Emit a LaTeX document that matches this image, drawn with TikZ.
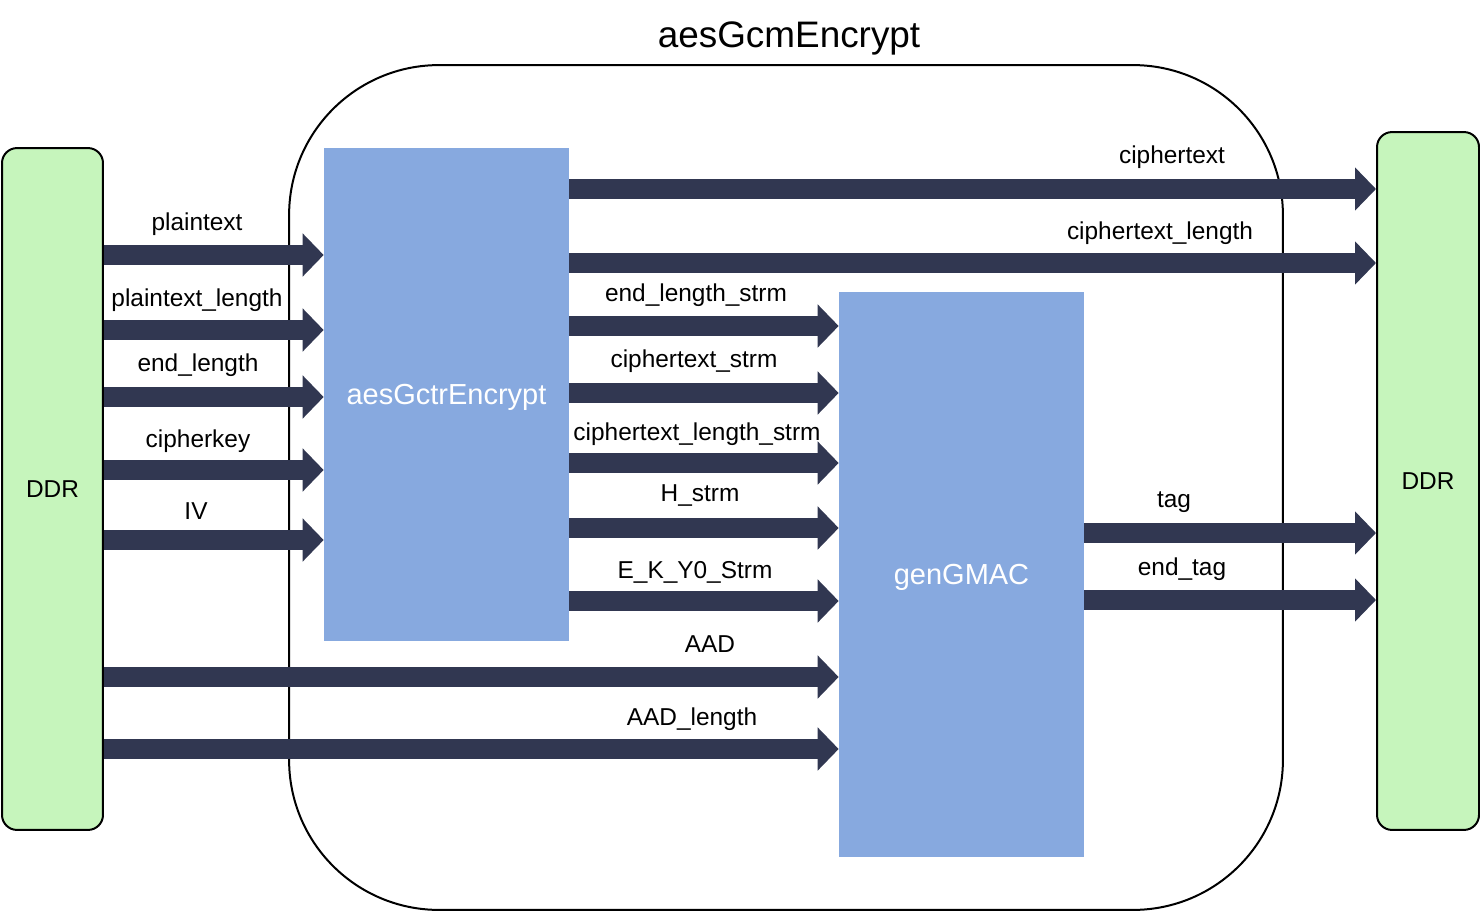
\documentclass[tikz,border=0pt]{standalone}
\usepackage{fontspec}
\setmainfont{Liberation Sans}
\usetikzlibrary{arrows.meta}

\definecolor{ddrgreen}{HTML}{C6F5BC}
\definecolor{blockblue}{HTML}{87A9DF}
\definecolor{busdark}{HTML}{313751}

\tikzset{
    ddr/.style={draw, line width=0.04cm, rounded corners=0.3cm, fill=ddrgreen, inner sep=0pt,
        font=\fontsize{13.9}{16}\selectfont},
    block/.style={fill=blockblue, text=white, inner sep=0pt, text depth=0pt,
        font=\fontsize{16.5}{20}\selectfont},
    bus/.style={busdark, line width=0.4cm, -{Triangle[width=0.84cm,length=0.42cm]}},
    lbl/.style={font=\fontsize{13.9}{16}\selectfont, inner sep=0pt},
}

\begin{document}
\begin{tikzpicture}[x=0.02cm, y=-0.02cm]
    \useasboundingbox (0,0) rectangle (1480,912);

    % Nodes
    \node (outer) at (786,487.5) [draw, line width=0.04cm, rounded corners=3cm,
        minimum width=19.88cm, minimum height=16.9cm] {};
    \node (title) at (789,38) [font=\fontsize{21}{25}\selectfont] {aesGcmEncrypt};

    \node (ddrL) at (52.5,489) [ddr, minimum width=2.02cm, minimum height=13.64cm] {DDR};
    \node (ddrR) at (1428,481) [ddr, minimum width=2.04cm, minimum height=13.96cm] {DDR};

    \node (gctr) at (446.5,394.5) [block, minimum width=4.9cm, minimum height=9.86cm] {aesGctrEncrypt};
    \node (gmac) at (961.5,574.5) [block, minimum width=4.9cm, minimum height=11.3cm] {genGMAC};

    % Labels
    \node (l1) at (197,224) [lbl] {plaintext};
    \node (l2) at (197,300) [lbl] {plaintext\_length};
    \node (l3) at (198,365) [lbl] {end\_length};
    \node (l4) at (198,441) [lbl] {cipherkey};
    \node (l5) at (196,511) [lbl] {IV};

    \node (l6) at (1172,157) [lbl] {ciphertext};
    \node (l7) at (1160,233) [lbl] {ciphertext\_length};

    \node (l8) at (696,295) [lbl] {end\_length\_strm};
    \node (l9) at (694,361) [lbl] {ciphertext\_strm};
    \node (l10) at (697,434) [lbl] {ciphertext\_length\_strm};
    \node (l11) at (700,496) [lbl] {H\_strm};
    \node (l12) at (695,572) [lbl] {E\_K\_Y0\_Strm};

    \node (l13) at (710,644) [lbl] {AAD};
    \node (l14) at (692,719) [lbl] {AAD\_length};

    \node (l15) at (1174,502) [lbl] {tag};
    \node (l16) at (1182,569) [lbl] {end\_tag};

    % Lines
    \draw[bus] (ddrL.east |- 0,255) -- (gctr.west |- 0,255);
    \draw[bus] (ddrL.east |- 0,330) -- (gctr.west |- 0,330);
    \draw[bus] (ddrL.east |- 0,397) -- (gctr.west |- 0,397);
    \draw[bus] (ddrL.east |- 0,470) -- (gctr.west |- 0,470);
    \draw[bus] (ddrL.east |- 0,540) -- (gctr.west |- 0,540);

    \draw[bus] (gctr.east |- 0,189) -- (ddrR.west |- 0,189);
    \draw[bus] (gctr.east |- 0,263) -- (ddrR.west |- 0,263);

    \draw[bus] (gctr.east |- 0,326) -- (gmac.west |- 0,326);
    \draw[bus] (gctr.east |- 0,393) -- (gmac.west |- 0,393);
    \draw[bus] (gctr.east |- 0,463) -- (gmac.west |- 0,463);
    \draw[bus] (gctr.east |- 0,528) -- (gmac.west |- 0,528);
    \draw[bus] (gctr.east |- 0,601) -- (gmac.west |- 0,601);

    \draw[bus] (ddrL.east |- 0,677) -- (gmac.west |- 0,677);
    \draw[bus] (ddrL.east |- 0,749) -- (gmac.west |- 0,749);

    \draw[bus] (gmac.east |- 0,533) -- (ddrR.west |- 0,533);
    \draw[bus] (gmac.east |- 0,600) -- (ddrR.west |- 0,600);
\end{tikzpicture}
\end{document}
